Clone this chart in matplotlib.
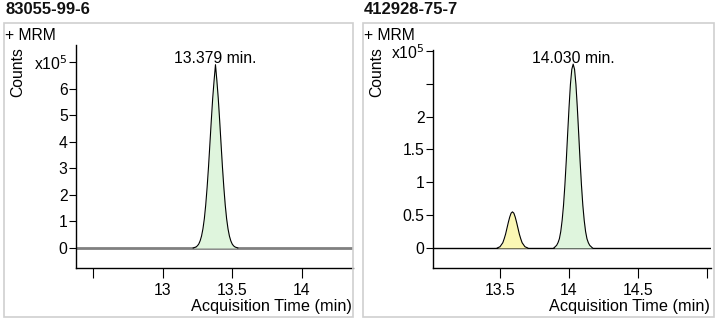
import matplotlib
matplotlib.use("Agg")
import matplotlib.pyplot as plt
from matplotlib.patches import Rectangle

plt.rcParams['font.family'] = ['Liberation Sans', 'DejaVu Sans']

# ---------------- data (intensities in units of 1e5 counts) ----------------
titles = ["83055-99-6", "412928-75-7"]
peak_labels = ["13.379 min.", "14.030 min."]
peak_label_x = [13.379, 14.030]
peak_label_y = [6.90, 2.79]

# left panel: main peak
left_time = [13.219, 13.229, 13.239, 13.249, 13.259, 13.269, 13.279, 13.289, 13.299,
             13.309, 13.319, 13.329, 13.339, 13.349, 13.359, 13.369, 13.379,
             13.389, 13.399, 13.409, 13.419, 13.429, 13.439, 13.449, 13.459,
             13.469, 13.479, 13.489, 13.499, 13.509, 13.519, 13.529, 13.539]
left_counts = [0.00, 0.02, 0.04, 0.08, 0.15, 0.27, 0.45, 0.72, 1.10,
               1.62, 2.28, 3.05, 3.92, 4.80, 5.63, 6.30, 6.90,
               6.30, 5.63, 4.80, 3.92, 3.05, 2.28, 1.62, 1.10,
               0.72, 0.45, 0.27, 0.15, 0.08, 0.04, 0.02, 0.00]

# right panel: small (yellow) peak
yellow_time = [13.48, 13.49, 13.50, 13.51, 13.52, 13.53, 13.54, 13.55, 13.56, 13.57, 13.58,
               13.59, 13.60, 13.61, 13.62, 13.63, 13.64, 13.65, 13.66, 13.67, 13.68, 13.69, 13.70]
yellow_counts = [0.00, 0.01, 0.02, 0.05, 0.08, 0.14, 0.21, 0.30, 0.39, 0.47, 0.53,
                 0.55, 0.53, 0.47, 0.39, 0.30, 0.21, 0.14, 0.08, 0.05, 0.02, 0.01, 0.00]

# right panel: main (green) peak
green_time = [13.89, 13.90, 13.91, 13.92, 13.93, 13.94, 13.95, 13.96, 13.97, 13.98, 13.99,
              14.00, 14.01, 14.02, 14.03, 14.04, 14.05, 14.06, 14.07, 14.08, 14.09,
              14.10, 14.11, 14.12, 14.13, 14.14, 14.15, 14.16, 14.17]
green_counts = [0.00, 0.02, 0.04, 0.08, 0.14, 0.25, 0.42, 0.65, 0.96, 1.33, 1.74,
                2.14, 2.49, 2.72, 2.80, 2.72, 2.49, 2.14, 1.74, 1.33, 0.96,
                0.65, 0.42, 0.25, 0.14, 0.08, 0.04, 0.02, 0.00]

left_xticks = [12.5, 13, 13.5, 14]
left_xticklabels = ["", "13", "13.5", "14"]
left_yticks = [0, 1, 2, 3, 4, 5, 6, 7]
left_yticklabels = ["0", "1", "2", "3", "4", "5", "6", "x10$^5$"]

right_xticks = [13.5, 14, 14.5, 15]
right_xticklabels = ["13.5", "14", "14.5", ""]
right_yticks = [0, 0.5, 1, 1.5, 2, 2.5, 3]
right_yticklabels = ["0", "0.5", "1", "1.5", "2", "", "x10$^5$"]

# ---------------- figure ----------------
W, H = 718, 322
fig = plt.figure(figsize=(W / 100, H / 100), dpi=100)


def fx(px):
    return px / W


def fy(py):
    return 1 - py / H


green_fill = "#dff5dd"
yellow_fill = "#fbf7b4"
FS = 11.3


def panel(box, axrect, xlim, ylim, title, xt, xtl, yt, ytl):
    bx0, by0, bx1, by1 = box
    fig.patches.append(Rectangle((fx(bx0), fy(by1)), fx(bx1 - bx0), (by1 - by0) / H,
                                 transform=fig.transFigure, fill=False,
                                 edgecolor="#cfcfcf", lw=1.2))
    fig.text(fx(bx0 + 1), fy(10), title, fontsize=12, fontweight="bold",
             ha="left", va="center", color="#111111")
    fig.text(fx(bx0 + 1), fy(35), "+ MRM", fontsize=FS, ha="left", va="center")
    fig.text(fx(bx0 + 14), fy(72), "Counts", fontsize=FS, rotation=90,
             ha="center", va="center")
    l, t, r, b = axrect
    ax = fig.add_axes([fx(l), fy(b), fx(r - l), (b - t) / H])
    ax.set_xlim(*xlim)
    ax.set_ylim(*ylim)
    for s in ["top", "right"]:
        ax.spines[s].set_visible(False)
    for s in ["left", "bottom"]:
        ax.spines[s].set_linewidth(1.0)
    ax.set_xticks(xt)
    ax.set_xticklabels(xtl)
    ax.set_yticks(yt)
    ax.set_yticklabels(ytl)
    ax.tick_params(axis="y", direction="out", length=5, width=0.8, pad=1, labelsize=FS)
    ax.tick_params(axis="x", direction="out", length=7.5, width=0.8, pad=3, labelsize=FS)
    ax.patch.set_alpha(0)
    fig.text(fx(r - 1), fy(307), "Acquisition Time (min)", fontsize=FS + 0.4,
             ha="right", va="center")
    return ax


axL = panel((4, 23, 353, 317), (76, 45, 353, 268), (12.378, 14.366), (-0.753, 7.64),
            titles[0], left_xticks, left_xticklabels, left_yticks, left_yticklabels)
axL.axhline(0, color="#808080", lw=2.0, zorder=1)
axL.fill_between(left_time, 0, left_counts, color=green_fill, zorder=2, lw=0)
axL.plot(left_time, left_counts, color="black", lw=0.8, zorder=3)
axL.text(peak_label_x[0], peak_label_y[0] + 0.22, peak_labels[0], ha="center",
         va="center", fontsize=FS, zorder=4)

axR = panel((363, 23, 714, 317), (433, 50, 711, 268), (13.014, 15.029), (-0.305, 3.015),
            titles[1], right_xticks, right_xticklabels, right_yticks, right_yticklabels)
axR.axhline(0, color="black", lw=1.0, zorder=1)
axR.fill_between(yellow_time, 0, yellow_counts, color=yellow_fill, zorder=2, lw=0)
axR.plot(yellow_time, yellow_counts, color="black", lw=0.8, zorder=3)
axR.fill_between(green_time, 0, green_counts, color=green_fill, zorder=2, lw=0)
axR.plot(green_time, green_counts, color="black", lw=0.8, zorder=3)
axR.text(peak_label_x[1], peak_label_y[1] + 0.09, peak_labels[1], ha="center",
         va="center", fontsize=FS, zorder=4)

fig.savefig("out.png", dpi=100)
